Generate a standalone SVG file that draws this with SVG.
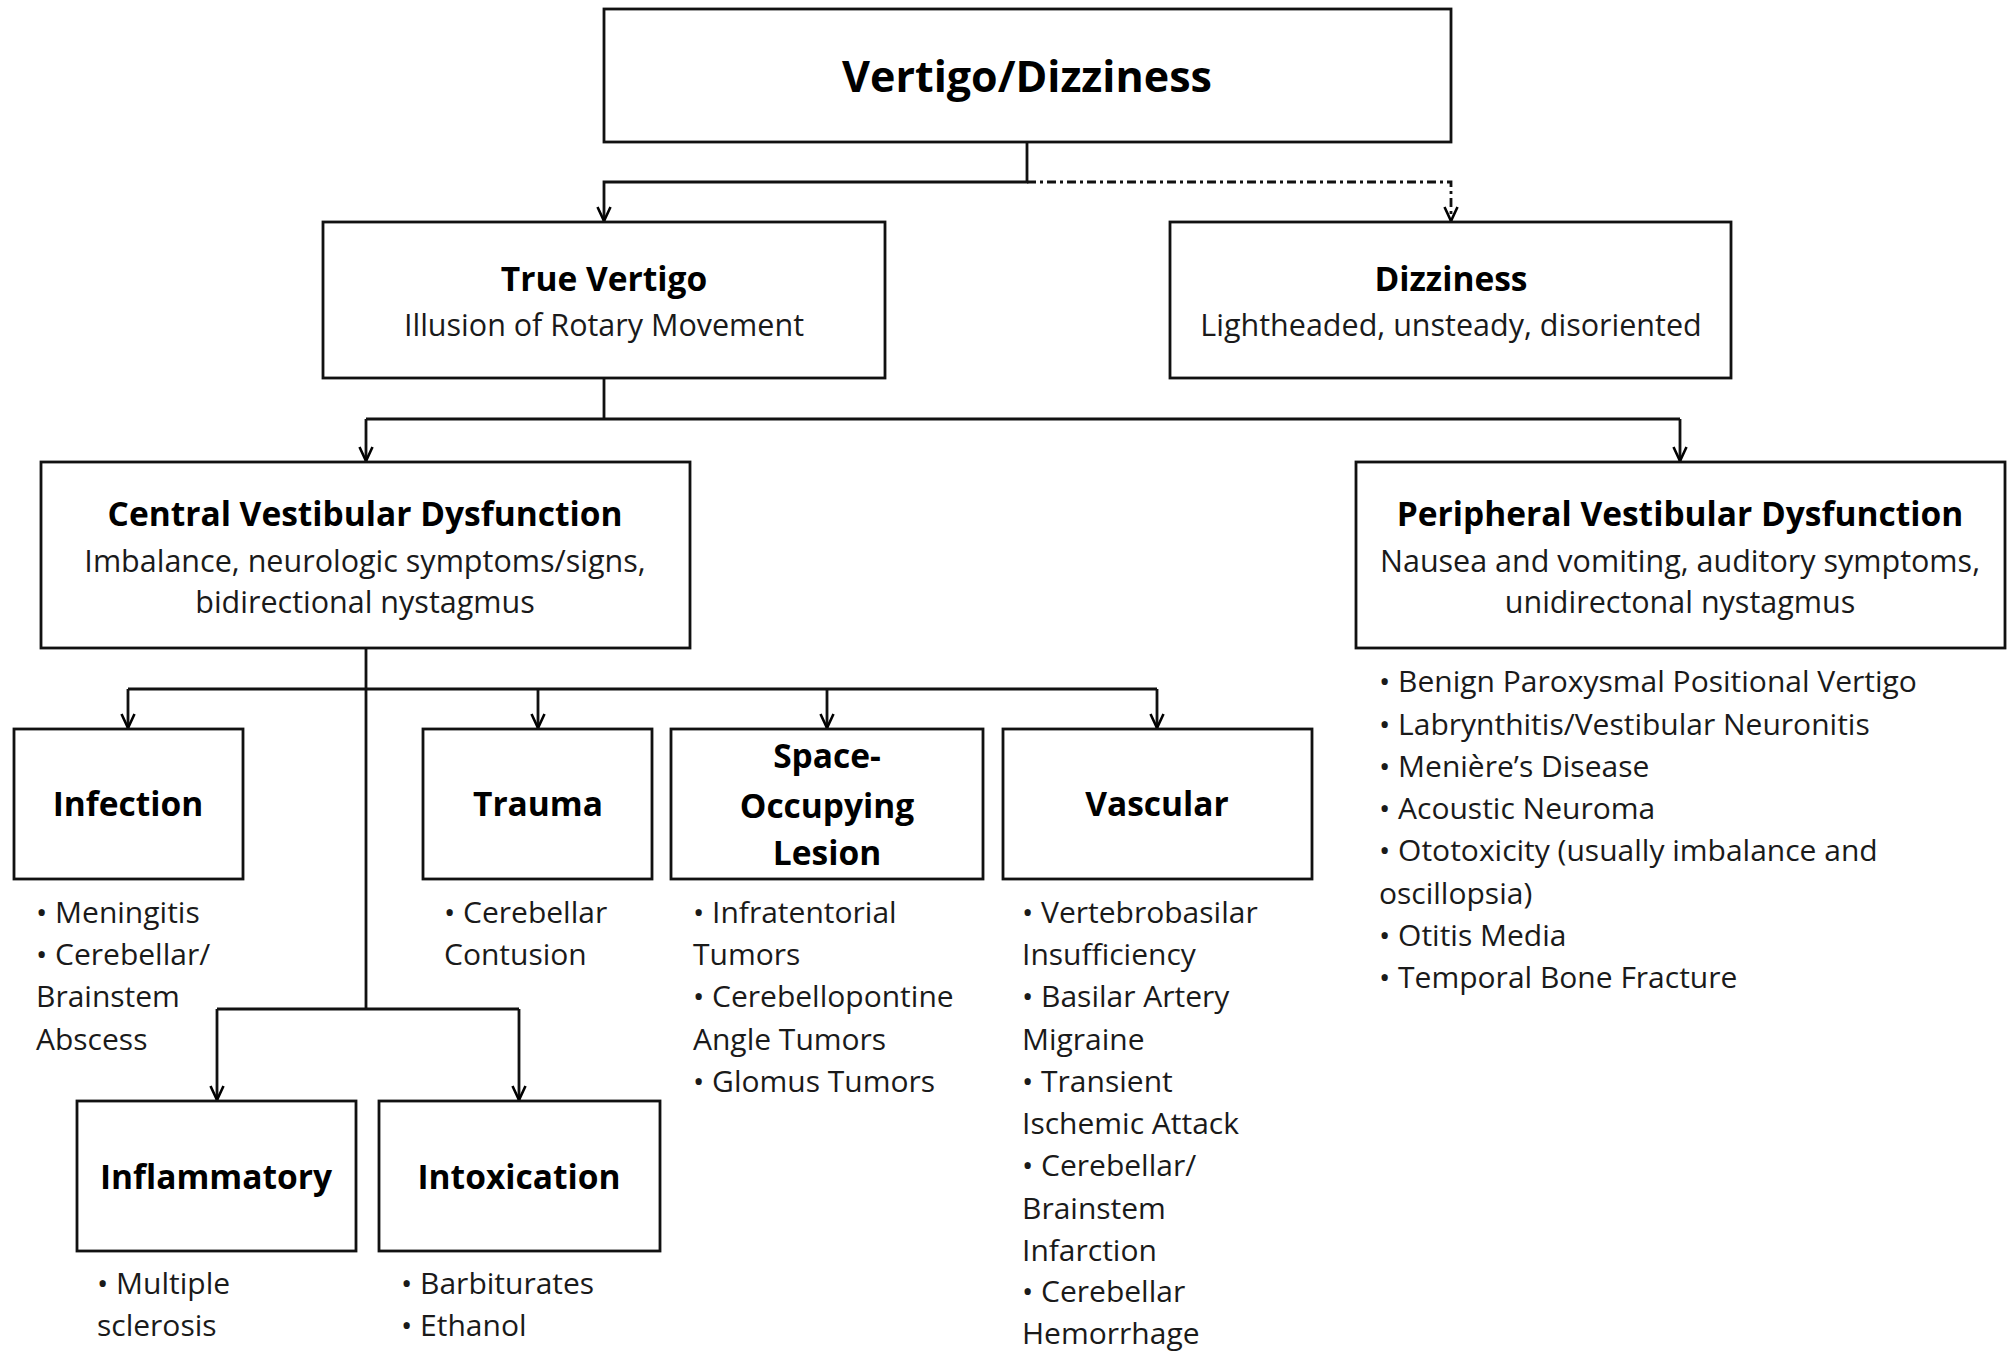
<svg xmlns="http://www.w3.org/2000/svg" width="2008" height="1352" viewBox="0 0 2008 1352">
<defs>
<marker id="arr" viewBox="-16 -9 18 18" refX="0" refY="0" markerWidth="18" markerHeight="18" markerUnits="userSpaceOnUse" orient="auto">
<path d="M-14,-6.5 L0,0 L-14,6.5" fill="none" stroke="#000" stroke-width="2.6"/>
</marker>
<style>
.box{fill:#fff;stroke:#111;stroke-width:2.8}
.ln{fill:none;stroke:#111;stroke-width:2.8}
.dd{fill:none;stroke:#111;stroke-width:2.8;stroke-dasharray:9 4 3 4}
text{font-family:"Open Sans","Noto Sans",Lato,"Liberation Sans",sans-serif;fill:#1a1a1a}
.t{font-weight:bold;font-size:33.5px;text-anchor:middle;fill:#000}
.top{font-weight:bold;font-size:43px;text-anchor:middle;fill:#000}
.s{font-size:30.5px;text-anchor:middle}
.b{font-size:30px}
</style>
</defs>
<rect width="2008" height="1352" fill="#fff"/>
<g id="connectors">
<path class="ln" d="M1027,142 V182 H604 V221" marker-end="url(#arr)"/>
<path class="dd" d="M1027,182 H1451 V221" marker-end="url(#arr)"/>
<path class="ln" d="M604,378 V419"/>
<path class="ln" d="M366,419 H1680"/>
<path class="ln" d="M366,419 V461" marker-end="url(#arr)"/>
<path class="ln" d="M1680,419 V461" marker-end="url(#arr)"/>
<path class="ln" d="M366,648 V1009"/>
<path class="ln" d="M128,689 H1157"/>
<path class="ln" d="M128,689 V728" marker-end="url(#arr)"/>
<path class="ln" d="M538,689 V728" marker-end="url(#arr)"/>
<path class="ln" d="M827,689 V728" marker-end="url(#arr)"/>
<path class="ln" d="M1157,689 V728" marker-end="url(#arr)"/>
<path class="ln" d="M217,1009 H519"/>
<path class="ln" d="M217,1009 V1100" marker-end="url(#arr)"/>
<path class="ln" d="M519,1009 V1100" marker-end="url(#arr)"/>
</g>
<g id="vertigo-dizziness">
<rect class="box" x="604" y="9" width="847" height="133"/>
<text class="top" x="1027" y="92">Vertigo/Dizziness</text>
</g>
<g id="true-vertigo">
<rect class="box" x="323" y="222" width="562" height="156"/>
<text class="t" x="604" y="291">True Vertigo</text>
<text class="s" x="604" y="336">Illusion of Rotary Movement</text>
</g>
<g id="dizziness">
<rect class="box" x="1170" y="222" width="561" height="156"/>
<text class="t" x="1451" y="291">Dizziness</text>
<text class="s" x="1451" y="336">Lightheaded, unsteady, disoriented</text>
</g>
<g id="central">
<rect class="box" x="41" y="462" width="649" height="186"/>
<text class="t" x="365" y="526">Central Vestibular Dysfunction</text>
<text class="s" x="365" y="572">Imbalance, neurologic symptoms/signs,</text>
<text class="s" x="365" y="613">bidirectional nystagmus</text>
</g>
<g id="peripheral">
<rect class="box" x="1356" y="462" width="649" height="186"/>
<text class="t" x="1680" y="526">Peripheral Vestibular Dysfunction</text>
<text class="s" x="1680" y="572">Nausea and vomiting, auditory symptoms,</text>
<text class="s" x="1680" y="613">unidirectonal nystagmus</text>
<text class="b" x="1379" y="692">• Benign Paroxysmal Positional Vertigo</text>
<text class="b" x="1379" y="735">• Labrynthitis/Vestibular Neuronitis</text>
<text class="b" x="1379" y="777">• Menière’s Disease</text>
<text class="b" x="1379" y="819">• Acoustic Neuroma</text>
<text class="b" x="1379" y="861">• Ototoxicity (usually imbalance and</text>
<text class="b" x="1379" y="904">oscillopsia)</text>
<text class="b" x="1379" y="946">• Otitis Media</text>
<text class="b" x="1379" y="988">• Temporal Bone Fracture</text>
</g>
<g id="infection">
<rect class="box" x="14" y="729" width="229" height="150"/>
<text class="t" x="128" y="816">Infection</text>
<text class="b" x="36" y="923">• Meningitis</text>
<text class="b" x="36" y="965">• Cerebellar/</text>
<text class="b" x="36" y="1007">Brainstem</text>
<text class="b" x="36" y="1050">Abscess</text>
</g>
<g id="trauma">
<rect class="box" x="423" y="729" width="229" height="150"/>
<text class="t" x="538" y="816">Trauma</text>
<text class="b" x="444" y="923">• Cerebellar</text>
<text class="b" x="444" y="965">Contusion</text>
</g>
<g id="space-occupying">
<rect class="box" x="671" y="729" width="312" height="150"/>
<text class="t" x="827" y="768">Space-</text>
<text class="t" x="827" y="818">Occupying</text>
<text class="t" x="827" y="865">Lesion</text>
<text class="b" x="693" y="923">• Infratentorial</text>
<text class="b" x="693" y="965">Tumors</text>
<text class="b" x="693" y="1007">• Cerebellopontine</text>
<text class="b" x="693" y="1050">Angle Tumors</text>
<text class="b" x="693" y="1092">• Glomus Tumors</text>
</g>
<g id="vascular">
<rect class="box" x="1003" y="729" width="309" height="150"/>
<text class="t" x="1157" y="816">Vascular</text>
<text class="b" x="1022" y="923">• Vertebrobasilar</text>
<text class="b" x="1022" y="965">Insufficiency</text>
<text class="b" x="1022" y="1007">• Basilar Artery</text>
<text class="b" x="1022" y="1050">Migraine</text>
<text class="b" x="1022" y="1092">• Transient</text>
<text class="b" x="1022" y="1134">Ischemic Attack</text>
<text class="b" x="1022" y="1176">• Cerebellar/</text>
<text class="b" x="1022" y="1219">Brainstem</text>
<text class="b" x="1022" y="1261">Infarction</text>
<text class="b" x="1022" y="1302">• Cerebellar</text>
<text class="b" x="1022" y="1344">Hemorrhage</text>
</g>
<g id="inflammatory">
<rect class="box" x="77" y="1101" width="279" height="150"/>
<text class="t" x="216" y="1189">Inflammatory</text>
<text class="b" x="97" y="1294">• Multiple</text>
<text class="b" x="97" y="1336">sclerosis</text>
</g>
<g id="intoxication">
<rect class="box" x="379" y="1101" width="281" height="150"/>
<text class="t" x="519" y="1189">Intoxication</text>
<text class="b" x="401" y="1294">• Barbiturates</text>
<text class="b" x="401" y="1336">• Ethanol</text>
</g>
</svg>
